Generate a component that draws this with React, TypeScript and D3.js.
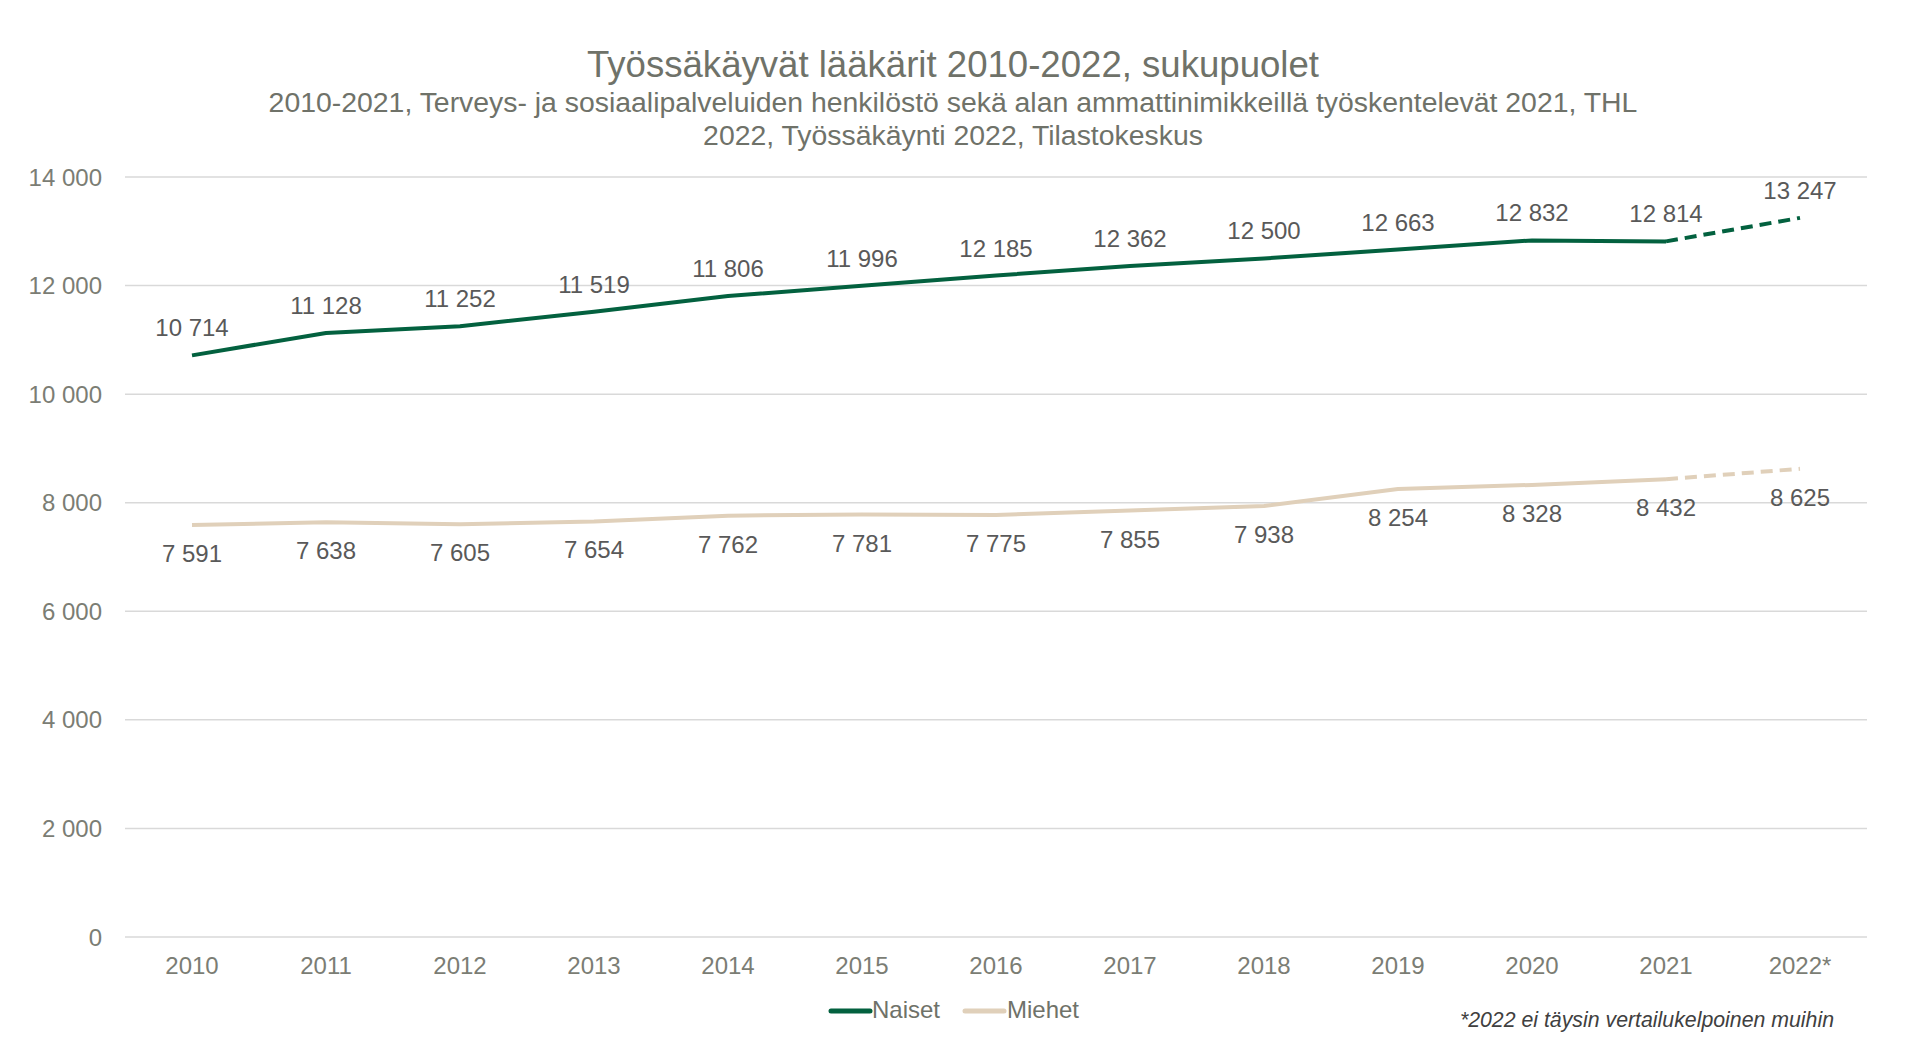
import React from 'react';
import * as d3 from 'd3';

// values
const years = ['2010', '2011', '2012', '2013', '2014', '2015', '2016', '2017', '2018', '2019', '2020', '2021', '2022*'];
const naiset = [10714, 11128, 11252, 11519, 11806, 11996, 12185, 12362, 12500, 12663, 12832, 12814, 13247];
const miehet = [7591, 7638, 7605, 7654, 7762, 7781, 7775, 7855, 7938, 8254, 8328, 8432, 8625];
const yTicks = [0, 2000, 4000, 6000, 8000, 10000, 12000, 14000];

const title = 'Työssäkäyvät lääkärit 2010-2022, sukupuolet';
const subtitle1 = '2010-2021, Terveys- ja sosiaalipalveluiden henkilöstö sekä alan ammattinimikkeillä työskentelevät 2021, THL';
const subtitle2 = '2022, Työssäkäynti 2022, Tilastokeskus';
const footnote = '*2022 ei täysin vertailukelpoinen muihin';

const green = '#03613f';
const beige = '#e0d0ba';
const font = '"Liberation Sans", Arial, sans-serif';

const fmt = d3.formatLocale({ thousands: '\u00a0', grouping: [3], decimal: ',', currency: ['', ''] }).format(',d');

export default function App() {
    const width = 1920, height = 1057;
    const left = 125, right = 1867, top = 177, bottom = 937;

    const x = d3.scalePoint<string>().domain(years).range([left, right]).padding(0.5);
    const y = d3.scaleLinear().domain([0, 14000]).range([bottom, top]);

    const ln = d3.line<number>().x((d, i) => x(years[i]) as number).y((d) => y(d));
    const last = years.length - 1;

    // solid part up to 2021, dashed segment 2021 -> 2022*
    const solidPath = (vals: number[]) => ln(vals.slice(0, last));
    const dashPath = (vals: number[]) =>
        d3.line<number>().x((d, i) => x(years[last - 1 + i]) as number).y((d) => y(d))(vals.slice(last - 1));

    return (
        <svg width={width} height={height} style={{ position: 'absolute', left: 0, top: 0, background: '#fff' }} fontFamily={font}>
            <text x={953} y={77} textAnchor='middle' fontSize={36.6} fill='#6f7269'>{title}</text>
            <text x={953} y={112} textAnchor='middle' fontSize={28.4} fill='#6f7269'>{subtitle1}</text>
            <text x={953} y={145} textAnchor='middle' fontSize={28.4} fill='#6f7269'>{subtitle2}</text>

            {yTicks.map((t) => (
                <g key={t}>
                    <line x1={left} x2={right} y1={y(t)} y2={y(t)} stroke='#d9d9d9' strokeWidth={1.5} />
                    <text x={102} y={y(t)} dy='0.36em' textAnchor='end' fontSize={24} fill='#7b7d74'>{fmt(t)}</text>
                </g>
            ))}

            {years.map((yr) => (
                <text key={yr} x={x(yr)} y={974} textAnchor='middle' fontSize={24} fill='#7b7d74'>{yr}</text>
            ))}

            <path d={solidPath(miehet) as string} fill='none' stroke={beige} strokeWidth={4} strokeLinejoin='round' />
            <path d={dashPath(miehet) as string} fill='none' stroke={beige} strokeWidth={4} strokeDasharray='12,7' />
            <path d={solidPath(naiset) as string} fill='none' stroke={green} strokeWidth={4} strokeLinejoin='round' />
            <path d={dashPath(naiset) as string} fill='none' stroke={green} strokeWidth={4} strokeDasharray='12,7' />

            {naiset.map((v, i) => (
                <text key={'n' + i} x={x(years[i])} y={y(v) - 19} textAnchor='middle' fontSize={24} fill='#595959'>{fmt(v)}</text>
            ))}
            {miehet.map((v, i) => (
                <text key={'m' + i} x={x(years[i])} y={y(v) + 37} textAnchor='middle' fontSize={24} fill='#595959'>{fmt(v)}</text>
            ))}

            <g>
                <line x1={831} x2={870} y1={1011} y2={1011} stroke={green} strokeWidth={5} strokeLinecap='round' />
                <text x={872} y={1018} fontSize={24} fill='#6f7269'>Naiset</text>
                <line x1={965} x2={1004} y1={1011} y2={1011} stroke={beige} strokeWidth={5} strokeLinecap='round' />
                <text x={1007} y={1018} fontSize={24} fill='#6f7269'>Miehet</text>
            </g>

            <text x={1834} y={1027} textAnchor='end' fontSize={21.3} fontStyle='italic' fill='#404040'>{footnote}</text>
        </svg>
    );
}
